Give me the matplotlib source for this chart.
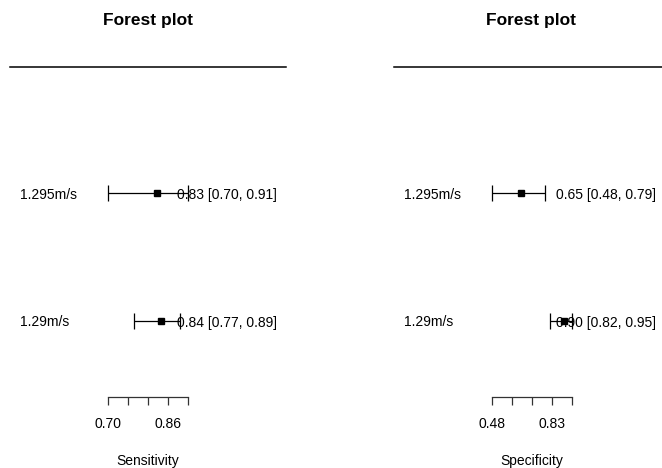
import matplotlib
matplotlib.use("Agg")
import matplotlib.pyplot as plt
from matplotlib.lines import Line2D

plt.rcParams['font.family'] = ['Liberation Sans', 'DejaVu Sans']

# study rows, top to bottom
labels = ["1.295m/s", "1.29m/s"]

sens = [0.83, 0.84]
sens_lo = [0.70, 0.77]
sens_hi = [0.91, 0.89]

spec = [0.65, 0.90]
spec_lo = [0.48, 0.82]
spec_hi = [0.79, 0.95]

sens_ticks = [0.70, 0.7525, 0.805, 0.8575, 0.91]
sens_ticklabels = ["0.70", "", "", "0.86", ""]
spec_ticks = [0.48, 0.5975, 0.715, 0.8325, 0.95]
spec_ticklabels = ["0.48", "", "", "0.83", ""]

W, H = 662, 468
fig = plt.figure(figsize=(W / 100, H / 100), dpi=100)


def fx(x):
    return x / W


def fy(y):
    return 1 - y / H


def panel(est, lo, hi, ticks, ticklabels, xlabel, ax_left, ax_right,
          line_l, line_r, label_x, annot_x, center_x):
    top, bottom = 67, 397
    ax = fig.add_axes([fx(ax_left), fy(bottom), fx(ax_right - ax_left),
                       (bottom - top) / H])
    n = len(est)
    ypos = list(range(n, 0, -1))
    ax.set_xlim(ticks[0], ticks[-1])
    ax.set_ylim(1 - 76 / 128, n + 126 / 128)
    for i in range(n):
        ax.errorbar(est[i], ypos[i], xerr=[[est[i] - lo[i]], [hi[i] - est[i]]],
                    fmt='s', color='black', ms=5, lw=0.9, capsize=5.5,
                    capthick=0.9, clip_on=False, zorder=3)
    for s in ['top', 'right', 'left']:
        ax.spines[s].set_visible(False)
    ax.spines['bottom'].set_color('#333333')
    ax.spines['bottom'].set_linewidth(0.9)
    ax.set_yticks([])
    ax.set_xticks(ticks)
    ax.set_xticklabels(ticklabels, fontsize=10)
    ax.tick_params(axis='x', direction='out', length=6, width=0.9,
                   color='#333333', pad=8.5)
    ax.patch.set_visible(False)

    # row labels and estimate text
    for i in range(n):
        yy = 194.5 + (n - ypos[i]) * 128
        fig.text(fx(label_x), fy(yy), labels[i], fontsize=10,
                 ha='left', va='center')
        fig.text(fx(annot_x), fy(yy),
                 f"{est[i]:.2f} [{lo[i]:.2f}, {hi[i]:.2f}]",
                 fontsize=10, ha='right', va='center')

    fig.add_artist(Line2D([fx(line_l), fx(line_r)], [fy(67), fy(67)],
                          color='black', lw=1.1))
    fig.text(fx(center_x), fy(20.5), "Forest plot", fontsize=12.5,
             fontweight='bold', ha='center', va='center')
    fig.text(fx((ax_left + ax_right) / 2), fy(461), xlabel, fontsize=10,
             ha='center', va='center')


panel(sens, sens_lo, sens_hi, sens_ticks, sens_ticklabels, "Sensitivity",
      107.7, 188, 10, 286, 20, 277, 148)
panel(spec, spec_lo, spec_hi, spec_ticks, spec_ticklabels, "Specificity",
      491.7, 572.3, 394, 662, 404, 656, 531)

fig.savefig("out.png", dpi=100)
